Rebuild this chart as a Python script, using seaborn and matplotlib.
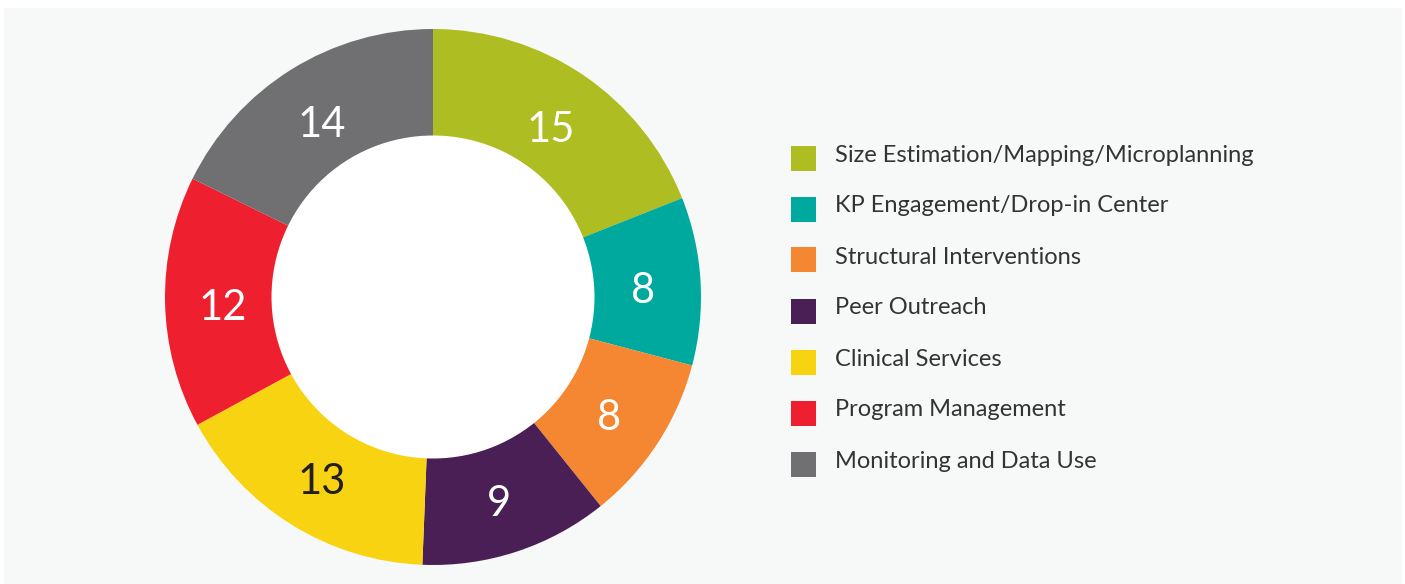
import seaborn as sns
import matplotlib.pyplot as plt
import numpy as np
from matplotlib.patches import Rectangle

# Data
categories = ["Size Estimation/Mapping/Microplanning", "KP Engagement/Drop-in Center",
              "Structural Interventions", "Peer Outreach", "Clinical Services",
              "Program Management", "Monitoring and Data Use"]
values = [15, 8, 8, 9, 13, 12, 14]
colors = ["#AEBD21", "#00A99D", "#F58733", "#4A1F55", "#F8D311", "#EE1F2F", "#707073"]
label_colors = ["white", "white", "white", "white", "#231F20", "white", "white"]

sns.set_theme(style="white")
plt.rcParams['font.family'] = ['Lato', 'DejaVu Sans']

W, H = 1405, 584
fig = plt.figure(figsize=(W / 100, H / 100), dpi=100)
fig.patch.set_facecolor("white")

# light panel behind everything
fig.add_artist(Rectangle((4 / W, 0), 1398 / W, (H - 8) / H, transform=fig.transFigure,
                         facecolor="#F7F9F8", edgecolor="none", zorder=0))

# donut axes, centre (433, 297) px, outer radius 268 px
cx, cy, r = 433, 297, 268
ax = fig.add_axes([(cx - r) / W, (H - cy - r) / H, 2 * r / W, 2 * r / H])
ax.set_facecolor("none")
pal = sns.color_palette(colors)
wedges, _ = ax.pie(values, colors=pal, startangle=90, counterclock=False, radius=1,
                   wedgeprops=dict(width=0.40, edgecolor="none"))
ax.add_patch(plt.Circle((0, 0), 0.60, color="white", zorder=3))
ax.set_xlim(-1, 1)
ax.set_ylim(-1, 1)
ax.axis("off")

for w, v, c in zip(wedges, values, label_colors):
    ang = np.deg2rad((w.theta1 + w.theta2) / 2)
    ax.text(0.785 * np.cos(ang), 0.785 * np.sin(ang) - 0.025, str(v), ha="center", va="center",
            fontsize=30, color=c, zorder=4)

# legend drawn by hand
y0, step = 158, 51
for i, (cat, col) in enumerate(zip(categories, colors)):
    y = y0 + i * step
    fig.add_artist(Rectangle((791 / W, (H - y - 12.5) / H), 25 / W, 25 / H,
                             transform=fig.transFigure, facecolor=col, edgecolor="none"))
    fig.text(835 / W, (H - y + 3) / H, cat, ha="left", va="center", fontsize=17, color="#333333")

fig.savefig("out.png", dpi=100, facecolor=fig.get_facecolor())
